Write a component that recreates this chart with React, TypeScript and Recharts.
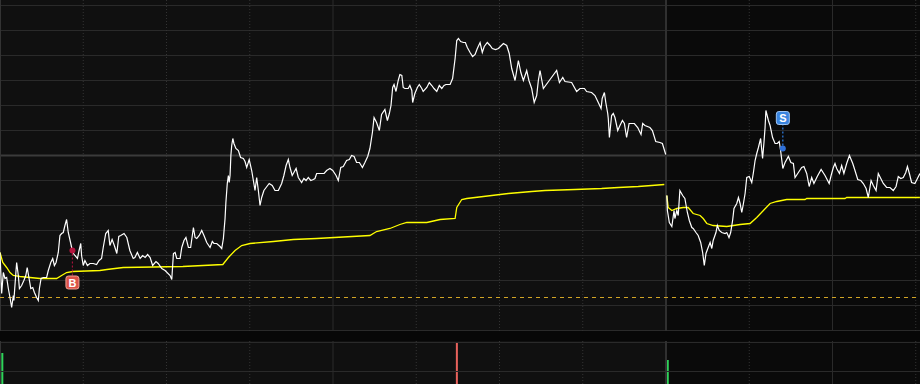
import React from 'react';
import {
  ComposedChart,
  Line,
  Bar,
  Cell,
  XAxis,
  YAxis,
  ReferenceLine,
  ReferenceArea,
  ReferenceDot,
} from 'recharts';

// time in trading minutes (day 2 starts at 240), value in % vs reference price
const day1Price: [number, number][] = [
  [0, -1.94], [0.6, -2.76], [1.2, -2.34], [1.8, -2.46], [2.4, -2.44], [3.0, -2.66], [3.6, -2.84], [4.2, -3.04], [4.8, -2.8], [5.0, -2.9],
  [5.7, -2.36], [6.0, -2.14], [6.6, -2.4], [7.0, -2.66], [7.8, -2.6], [8.6, -2.5], [9.3, -2.4], [9.8, -2.24], [10.6, -2.5], [11.1, -2.66],
  [11.8, -2.64], [12.4, -2.74], [13.2, -2.84], [13.8, -2.9], [14.2, -2.66], [14.8, -2.46], [15.6, -2.44], [16.8, -2.44], [17.4, -2.3], [18.3, -2.14],
  [19.0, -2.06], [19.6, -2.2], [20.2, -2.14], [21.0, -1.94], [21.6, -1.6], [22.2, -1.56], [22.8, -1.54], [23.4, -1.4], [24.0, -1.28], [24.6, -1.54],
  [25.5, -1.76], [26.2, -1.94], [27.0, -2.0], [27.9, -2.06], [28.5, -1.9], [29.1, -1.76], [29.4, -2.0], [30.0, -2.2], [30.6, -2.1], [31.5, -2.2],
  [32.4, -2.16], [33.6, -2.16], [34.8, -2.18], [35.7, -2.1], [36.6, -2.06], [37.2, -1.84], [38.1, -1.56], [39.0, -1.5], [39.6, -1.8], [40.4, -1.68],
  [41.2, -1.8], [42.1, -1.96], [42.8, -1.62], [43.5, -1.6], [44.7, -1.56], [45.7, -1.64], [46.8, -1.9], [48.0, -2.06], [48.6, -2.04], [49.5, -1.94],
  [50.5, -2.06], [51.4, -2.0], [52.3, -2.04], [53.2, -1.98], [54.1, -2.04], [55.0, -2.2], [56.2, -2.12], [57.0, -2.16], [58.3, -2.26], [59.5, -2.3],
  [61.3, -2.4], [61.9, -2.48], [62.5, -1.96], [63.1, -1.94], [63.7, -2.06], [64.9, -2.06], [65.5, -1.84], [66.3, -1.7], [67.0, -1.64], [67.9, -1.84],
  [68.7, -1.84], [69.7, -1.44], [70.3, -1.64], [70.9, -1.66], [71.8, -1.6], [72.7, -1.5], [73.5, -1.6], [74.5, -1.74], [75.7, -1.84], [76.5, -1.72],
  [77.1, -1.76], [78.1, -1.76], [79.3, -1.82], [79.9, -1.86], [80.5, -1.66], [81.1, -1.26], [81.4, -0.94], [81.9, -0.56], [82.3, -0.4], [82.6, -0.54],
  [82.9, -0.4], [83.2, 0.0], [83.5, 0.2], [83.9, 0.34], [84.3, 0.24], [85.0, 0.14], [85.9, 0.1], [86.7, -0.04], [87.7, -0.06], [88.3, -0.12],
  [88.9, -0.24], [89.8, -0.08], [90.7, -0.3], [91.3, -0.5], [91.9, -0.7], [92.5, -0.44], [93.1, -0.7], [93.7, -1.0], [94.3, -0.84], [95.1, -0.7],
  [95.9, -0.64], [97.0, -0.56], [98.1, -0.6], [99.1, -0.7], [100.3, -0.7], [101.5, -0.56], [102.3, -0.4], [103.1, -0.2], [103.9, -0.08], [104.5, -0.24],
  [105.3, -0.4], [105.9, -0.34], [106.7, -0.26], [107.5, -0.44], [108.7, -0.54], [109.5, -0.46], [110.3, -0.5], [111.1, -0.44], [112.0, -0.5], [112.9, -0.48],
  [113.5, -0.46], [114.1, -0.36], [116.8, -0.36], [117.7, -0.3], [118.9, -0.26], [119.9, -0.3], [121.1, -0.4], [121.9, -0.5], [122.8, -0.24], [123.7, -0.22],
  [124.9, -0.1], [125.9, -0.08], [126.7, 0.0], [127.6, -0.02], [128.5, -0.14], [129.5, -0.14], [130.6, -0.24], [131.5, -0.14], [132.5, -0.02], [133.3, 0.14],
  [134.2, 0.46], [134.8, 0.76], [135.7, 0.66], [136.7, 0.5], [137.5, 0.82], [138.7, 0.92], [139.6, 0.7], [140.3, 0.84], [140.9, 1.0], [141.5, 1.36],
  [142.0, 1.42], [142.7, 1.28], [143.5, 1.5], [144.1, 1.62], [144.8, 1.6], [145.3, 1.36], [145.9, 1.34], [147.1, 1.34], [147.7, 1.4], [148.4, 1.3],
  [148.7, 1.06], [149.5, 1.24], [150.4, 1.36], [151.1, 1.42], [152.0, 1.34], [152.5, 1.28], [153.8, 1.36], [154.7, 1.46], [155.6, 1.4], [156.4, 1.34],
  [157.4, 1.28], [158.3, 1.4], [159.2, 1.34], [160.0, 1.4], [160.7, 1.42], [162.2, 1.42], [163.1, 1.54], [164.0, 1.94], [164.6, 2.3], [165.2, 2.34],
  [166.0, 2.28], [167.0, 2.26], [167.7, 2.26], [168.4, 2.16], [169.4, 2.06], [170.3, 1.98], [171.2, 2.02], [172.0, 2.14], [173.0, 2.26], [173.8, 2.06],
  [174.5, 2.18], [175.6, 2.26], [176.6, 2.2], [177.4, 2.14], [178.6, 2.12], [179.6, 2.14], [181.4, 2.24], [182.6, 2.2], [183.5, 2.04], [184.4, 1.74],
  [185.6, 1.5], [186.8, 1.9], [187.7, 1.66], [188.6, 1.5], [189.8, 1.7], [190.6, 1.5], [191.6, 1.34], [192.5, 1.06], [193.4, 1.2], [194.0, 1.5],
  [194.6, 1.7], [195.8, 1.34], [198.2, 1.52], [200.6, 1.7], [201.6, 1.46], [202.8, 1.56], [203.6, 1.48], [206.0, 1.46], [207.8, 1.28], [209.0, 1.34],
  [210.6, 1.34], [211.4, 1.28], [213.2, 1.26], [214.4, 1.2], [215.6, 1.06], [216.6, 0.94], [217.0, 1.14], [217.8, 1.26], [218.3, 1.06], [219.0, 0.84],
  [219.2, 0.74], [219.6, 0.36], [220.4, 0.8], [221.0, 0.84], [221.6, 0.76], [222.6, 0.5], [223.4, 0.6], [224.3, 0.7], [225.0, 0.64], [225.8, 0.36],
  [226.7, 0.64], [228.6, 0.64], [229.8, 0.56], [231.0, 0.42], [231.6, 0.64], [232.4, 0.6], [234.2, 0.56], [235.1, 0.5], [236.3, 0.28], [237.8, 0.26],
  [238.7, 0.24], [239.9, 0.02],
];

const day2Price: [number, number][] = [
  [240.3, -0.8], [240.5, -1.1], [241.2, -1.34], [242.1, -1.42], [242.9, -1.1], [243.2, -1.26], [243.9, -1.1], [244.4, -1.2], [245.0, -0.7], [246.0, -0.8],
  [246.8, -0.86], [247.7, -1.14], [248.4, -1.3], [249.3, -1.44], [249.8, -1.46], [250.8, -1.54], [251.6, -1.6], [252.5, -1.74], [253.2, -1.94], [253.8, -2.2],
  [254.4, -1.96], [255.2, -1.84], [255.9, -1.74], [256.5, -1.86], [257.0, -1.7], [258.0, -1.54], [258.5, -1.4], [259.2, -1.5], [260.1, -1.54], [261.3, -1.56],
  [261.9, -1.54], [262.7, -1.64], [263.3, -1.54], [264.0, -1.3], [264.5, -1.06], [265.5, -0.96], [266.1, -0.84], [266.7, -0.96], [267.3, -1.14], [267.9, -0.96],
  [268.5, -0.76], [269.1, -0.44], [270.0, -0.42], [270.9, -0.54], [271.5, -0.34], [272.1, -0.1], [272.7, 0.04], [273.3, 0.16], [274.1, 0.34], [274.8, -0.06],
  [275.3, 0.26], [275.7, 0.56], [276.0, 0.9], [276.9, 0.7], [277.5, 0.6], [278.4, 0.36], [279.3, 0.24], [280.1, 0.24], [280.8, 0.28], [281.3, 0.1],
  [282.1, -0.26], [282.9, -0.14], [284.1, -0.02], [285.0, -0.14], [285.9, -0.16], [286.5, -0.44], [287.7, -0.34], [288.9, -0.24], [289.7, -0.22], [290.7, -0.36],
  [291.6, -0.62], [292.5, -0.44], [293.3, -0.56], [294.5, -0.42], [295.9, -0.28], [297.3, -0.4], [298.8, -0.56], [299.5, -0.4], [300.3, -0.24], [300.9, -0.16],
  [301.5, -0.26], [302.5, -0.36], [303.3, -0.2], [304.1, -0.36], [305.1, -0.16], [306.1, 0.0], [307.3, -0.16], [308.1, -0.3], [309.1, -0.48], [310.2, -0.5],
  [311.1, -0.56], [312.1, -0.66], [312.9, -0.84], [313.9, -0.5], [314.7, -0.6], [315.7, -0.7], [316.5, -0.36], [317.4, -0.46], [318.3, -0.56], [319.5, -0.64],
  [320.7, -0.64], [321.9, -0.7], [322.9, -0.62], [323.7, -0.42], [324.6, -0.46], [325.5, -0.44], [326.4, -0.34], [327.0, -0.22], [327.7, -0.36], [328.5, -0.54],
  [329.7, -0.56], [330.6, -0.46], [331.5, -0.36],
];

const day1Avg: [number, number][] = [
  [0, -1.94], [1.0, -2.14], [2.4, -2.24], [3.6, -2.34], [4.8, -2.4], [7.2, -2.42], [10.8, -2.44], [14.4, -2.46], [20.4, -2.46], [22.2, -2.4],
  [24.0, -2.34], [26.2, -2.32], [36.0, -2.3], [38.5, -2.28], [44.4, -2.24], [65.9, -2.22], [80.3, -2.18], [82.3, -2.04], [84.7, -1.9], [87.1, -1.8],
  [90.1, -1.76], [98.5, -1.72], [105.7, -1.68], [114.1, -1.66], [133.3, -1.6], [135.7, -1.52], [140.5, -1.46], [144.1, -1.38], [146.6, -1.34], [153.8, -1.34],
  [158.6, -1.28], [164.0, -1.26], [164.6, -1.04], [166.4, -0.88], [168.2, -0.86], [174.2, -0.82], [183.2, -0.76], [191.6, -0.72], [196.4, -0.7], [207.2, -0.68],
  [216.8, -0.66], [222.8, -0.64], [230.0, -0.62], [234.8, -0.6], [239.4, -0.58],
];

const day2Avg: [number, number][] = [
  [240.3, -0.8], [240.8, -1.04], [242.1, -1.1], [243.9, -1.06], [246.2, -1.04], [248.0, -1.04], [249.8, -1.16], [252.3, -1.2], [253.4, -1.26], [254.7, -1.36],
  [257.0, -1.4], [261.9, -1.42], [266.7, -1.38], [270.3, -1.36], [272.7, -1.24], [275.1, -1.1], [277.5, -0.96], [279.9, -0.92], [283.5, -0.88], [290.1, -0.88],
  [290.7, -0.86], [304.5, -0.86], [305.1, -0.84], [331.5, -0.84],
];

// volume: time, amount, direction (1 up / -1 down)
const volumeTime = [1, 164.8, 240.8];
const volumeAmount = [4900, 6000, 4200];
const volumeDir = [-1, 1, -1];

const refPrice = -2.84; // dashed reference line
const buyTrade = { t: 26.1, v: -1.9 };
const sellTrade = { t: 282.1, v: 0.14 };

const hGrid = [-3.5, -3, -2.5, -2, -1.5, -1, -0.5, 0, 0.5, 1, 1.5, 2, 2.5, 3];
const vGridDotted = [30, 60, 90, 150, 180, 210, 270, 330];
const vGridSolid = [120, 300];
const dayBreak = 240;

const X_DOMAIN: [number, number] = [0, 331.53];
const Y_DOMAIN: [number, number] = [-3.51, 3.11];

const toRows = (pts: [number, number][]) => pts.map(([t, v]) => ({ t, v }));

const GRID = '#2a2a2a';
const BG_LEFT = '#101010';
const BG_RIGHT = '#0a0a0a';

const TradeMarker = (props: any) => {
  const { cx, cy, kind } = props;
  if (cx == null || cy == null) return null;
  const isBuy = kind === 'B';
  const boxCy = isBuy ? cy + 32 : cy - 30.5;
  const lineFrom = isBuy ? cy + 3 : cy - 3;
  const lineTo = isBuy ? boxCy - 6.5 : boxCy + 6.5;
  const fill = isBuy ? '#dc5247' : '#3a85e0';
  const border = isBuy ? '#f2a093' : '#9cc3f2';
  const lineColor = isBuy ? '#a3123a' : '#2f7fe6';
  const dotColor = isBuy ? '#b3153e' : '#2f70d8';
  return (
    <g>
      <line x1={cx} x2={cx} y1={lineFrom} y2={lineTo} stroke={lineColor} strokeWidth={1.2} strokeDasharray="2 2" />
      <circle cx={cx} cy={cy} r={3} fill={dotColor} />
      <rect x={cx - 6.5} y={boxCy - 6.5} width={13} height={13} rx={2.5} ry={2.5} fill={fill} stroke={border} strokeWidth={1} />
      <text
        x={cx}
        y={boxCy + 4}
        textAnchor="middle"
        fontSize={11}
        fontWeight="bold"
        fill="#ffffff"
        fontFamily="'Liberation Sans', Arial, sans-serif"
      >
        {kind}
      </text>
    </g>
  );
};

const verticalGrid = (keyPrefix: string) => [
  ...vGridDotted.map((x) => (
    <ReferenceLine key={`${keyPrefix}d${x}`} x={x} stroke="#333333" strokeDasharray="1 2" strokeWidth={1} />
  )),
  ...vGridSolid.map((x) => <ReferenceLine key={`${keyPrefix}s${x}`} x={x} stroke={GRID} strokeWidth={1} />),
  <ReferenceLine key={`${keyPrefix}brk`} x={dayBreak} stroke="#303030" strokeWidth={2} />,
  <ReferenceLine key={`${keyPrefix}left`} x={0} stroke="#333333" strokeWidth={2} />,
];

export default function App() {
  const d1p = toRows(day1Price);
  const d2p = toRows(day2Price);
  const d1a = toRows(day1Avg);
  const d2a = toRows(day2Avg);
  const volData = volumeTime.map((t, i) => ({ t, v: volumeAmount[i], dir: volumeDir[i] }));

  const lineCommon = {
    dataKey: 'v',
    type: 'linear' as const,
    dot: false,
    activeDot: false,
    isAnimationActive: false,
  };

  return (
    <div
      style={{
        position: 'absolute',
        left: 0,
        top: 0,
        width: 920,
        height: 384,
        overflow: 'hidden',
        background: '#070707',
      }}
    >
      <div style={{ position: 'absolute', left: 0, top: 0 }}>
        <ComposedChart width={920} height={331} margin={{ top: 0, right: 0, bottom: 0, left: 0 }}>
          <XAxis type="number" dataKey="t" domain={X_DOMAIN} allowDataOverflow hide />
          <YAxis type="number" domain={Y_DOMAIN} allowDataOverflow hide />
          <ReferenceArea x1={0} x2={dayBreak} fill={BG_LEFT} fillOpacity={1} stroke="none" />
          <ReferenceArea x1={dayBreak} x2={X_DOMAIN[1]} fill={BG_RIGHT} fillOpacity={1} stroke="none" />
          {hGrid.map((y) => (
            <ReferenceLine key={`h${y}`} y={y} stroke={y === 0 ? '#3b3b3b' : GRID} strokeWidth={y === 0 ? 2 : 1} />
          ))}
          {verticalGrid('m')}
          <ReferenceLine y={refPrice} stroke="#d2a526" strokeDasharray="4 4" strokeWidth={1} />
          <Line {...lineCommon} data={d1a} stroke="#ffff00" strokeWidth={1.3} />
          <Line {...lineCommon} data={d2a} stroke="#ffff00" strokeWidth={1.3} />
          <Line {...lineCommon} data={d1p} stroke="#ffffff" strokeWidth={1.2} />
          <Line {...lineCommon} data={d2p} stroke="#ffffff" strokeWidth={1.2} />
          <ReferenceDot x={buyTrade.t} y={buyTrade.v} r={3} shape={(p: any) => <TradeMarker {...p} kind="B" />} />
          <ReferenceDot x={sellTrade.t} y={sellTrade.v} r={3} shape={(p: any) => <TradeMarker {...p} kind="S" />} />
        </ComposedChart>
      </div>
      <div style={{ position: 'absolute', left: 0, top: 341 }}>
        <ComposedChart width={920} height={61} data={volData} margin={{ top: 0, right: 0, bottom: 0, left: 0 }}>
          <XAxis type="number" dataKey="t" domain={X_DOMAIN} allowDataOverflow hide />
          <YAxis type="number" domain={[0, 6100]} allowDataOverflow hide />
          <ReferenceArea x1={0} x2={dayBreak} fill={BG_LEFT} fillOpacity={1} stroke="none" />
          <ReferenceArea x1={dayBreak} x2={X_DOMAIN[1]} fill={BG_RIGHT} fillOpacity={1} stroke="none" />
          <ReferenceLine y={5950} stroke={GRID} strokeWidth={1} />
          <ReferenceLine y={3050} stroke={GRID} strokeWidth={1} />
          {verticalGrid('v')}
          <Bar dataKey="v" barSize={2} isAnimationActive={false}>
            {volData.map((d, i) => (
              <Cell key={i} fill={d.dir > 0 ? '#e8625c' : '#2fd35a'} />
            ))}
          </Bar>
        </ComposedChart>
      </div>
    </div>
  );
}
